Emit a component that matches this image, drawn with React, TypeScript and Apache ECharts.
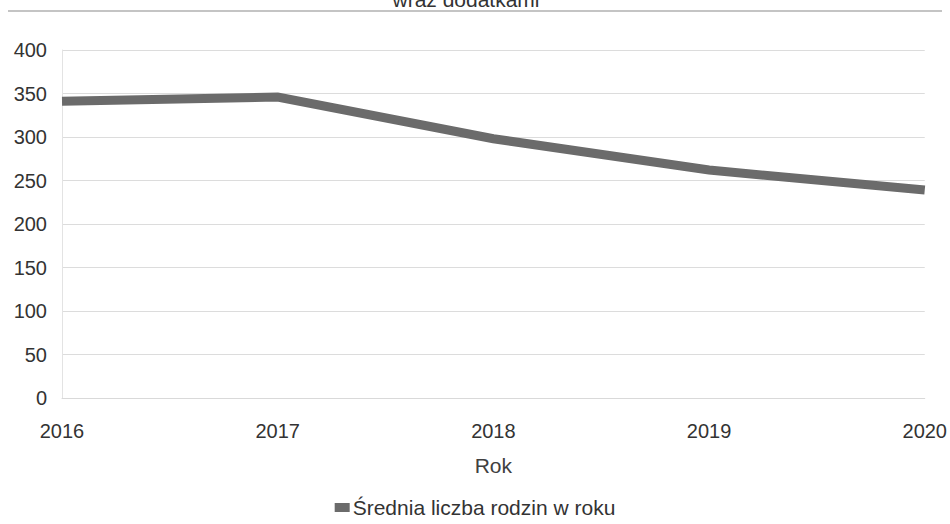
import React, { useEffect, useRef } from "react";
import * as echarts from "echarts";

const years = ["2016", "2017", "2018", "2019", "2020"];
const familiesAvg = [341, 346, 298, 262, 239];
const seriesName = "Średnia liczba rodzin w roku";
const xAxisName = "Rok";
const titleFragment = "wraz dodatkami";

export default function App() {
  const ref = useRef<HTMLDivElement>(null);
  useEffect(() => {
    if (!ref.current) return;
    const chart = echarts.init(ref.current, undefined, { renderer: "svg" });
    const font = "Liberation Sans, Arial, sans-serif";
    chart.setOption({
      animation: false,
      backgroundColor: "#ffffff",
      textStyle: { fontFamily: font },
      grid: { left: 62, right: 25, top: 50, bottom: 126, containLabel: false },
      graphic: [
        {
          type: "line",
          shape: { x1: 8, y1: 11, x2: 942, y2: 11 },
          style: { stroke: "#c4c4c4", lineWidth: 2 },
        },
        {
          type: "text",
          x: 466,
          y: 10,
          style: {
            text: titleFragment,
            fontFamily: font,
            fontSize: 21,
            fill: "#333333",
            textAlign: "center",
            textVerticalAlign: "bottom",
          },
        },
      ],
      legend: {
        bottom: 1,
        left: "center",
        data: [seriesName],
        icon: "rect",
        itemWidth: 15,
        itemHeight: 9,
        itemGap: 4,
        textStyle: { fontFamily: font, fontSize: 21, color: "#333333", padding: [0, 0, 0, -2] },
      },
      xAxis: {
        type: "category",
        data: years,
        boundaryGap: false,
        name: xAxisName,
        nameLocation: "middle",
        nameGap: 57,
        nameTextStyle: { fontFamily: font, fontSize: 21, color: "#404040" },
        axisLine: { show: true, lineStyle: { color: "#d9d9d9", width: 1 } },
        axisTick: { show: false },
        axisLabel: { fontFamily: font, fontSize: 20, color: "#333333", margin: 23 },
        splitLine: { show: false },
      },
      yAxis: {
        type: "value",
        min: 0,
        max: 400,
        interval: 50,
        axisLine: { show: true, lineStyle: { color: "#e3e3e3", width: 1 } },
        axisTick: { show: false },
        axisLabel: { fontFamily: font, fontSize: 20, color: "#333333", margin: 15 },
        splitLine: { show: true, lineStyle: { color: "#dcdcdc", width: 1 } },
      },
      series: [
        {
          name: seriesName,
          type: "line",
          data: familiesAvg,
          showSymbol: false,
          symbol: "none",
          lineStyle: { color: "#6b6b6b", width: 9, cap: "butt", join: "miter" },
          itemStyle: { color: "#6b6b6b" },
        },
      ],
    });
    return () => chart.dispose();
  }, []);
  return <div ref={ref} style={{ width: 950, height: 524, position: "absolute", left: 0, top: 0 }} />;
}
